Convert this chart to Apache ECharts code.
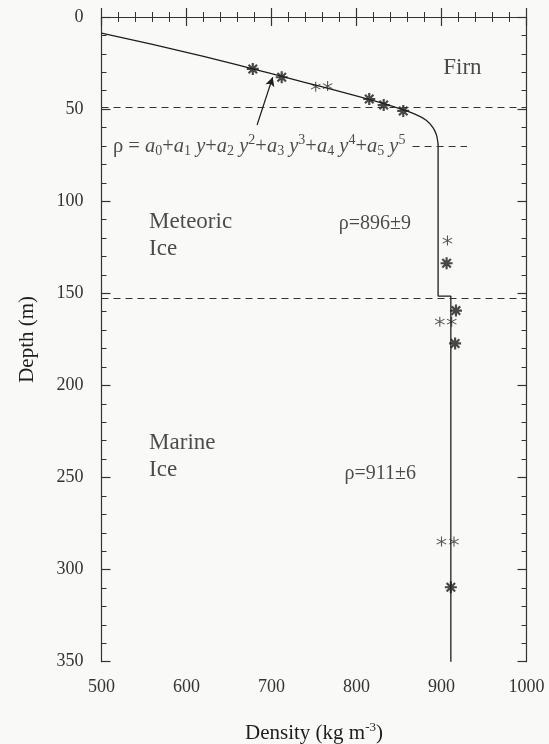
<!DOCTYPE html>
<html>
<head>
<meta charset="utf-8">
<script src="https://cdn.jsdelivr.net/npm/echarts@6/dist/echarts.min.js"></script>
<style>
html,body{margin:0;padding:0;background:#f9f9f7;}
#c{width:549px;height:744px;}
</style>
</head>
<body>
<div id="c"></div>
<script>
// ---- data (density kg m^-3, depth m) ----
const curveDensity = [500, 540, 580, 620, 660, 700, 740, 780, 820, 850, 870, 882, 890, 894, 896];
const curveDepth   = [8.8, 12.8, 17.0, 21.4, 26.0, 30.8, 35.6, 40.4, 45.4, 49.6, 53.0, 56.0, 60.0, 64.0, 69.0];
const stepDensity  = [896, 896, 911, 911];
const stepDepth    = [69, 151.5, 151.5, 350];
const boldDensity  = [678, 712, 815, 832, 855, 906, 917, 916, 911];
const boldDepth    = [28.2, 32.7, 44.5, 47.8, 51.0, 133.7, 159.4, 177.2, 309.6];
const thinDensity  = [752, 766, 907, 898, 912, 900, 914.7];
const thinDepth    = [37.8, 37.5, 121.4, 165.4, 165.4, 284.8, 284.8];
const boundaryDepths = [49, 152.5];
const shortDashDensity = [866, 930];
const shortDashDepth = 70.4;
const arrowFrom = [683, 58.6];
const arrowTo = [701.4, 32.7];
const xTicks = [500, 600, 700, 800, 900, 1000];
const yTicks = [0, 50, 100, 150, 200, 250, 300, 350];

const FONT = 'Liberation Serif';
const INK = '#1e1e1e';

function zip(a, b) { return a.map((v, i) => [v, b[i]]); }

function asterisk(nBars, w, offset) {
  let p = '';
  const L = 50, c = 50;
  for (let k = 0; k < nBars; k++) {
    const t = offset + k * Math.PI / nBars;
    const ct = Math.cos(t), st = Math.sin(t);
    const pts = [
      [c + L * ct - w * st, c + L * st + w * ct],
      [c - L * ct - w * st, c - L * st + w * ct],
      [c - L * ct + w * st, c - L * st - w * ct],
      [c + L * ct + w * st, c + L * st - w * ct]
    ];
    p += 'M' + pts.map(q => q[0].toFixed(2) + ' ' + q[1].toFixed(2)).join(' L') + ' Z ';
  }
  return 'path://' + p;
}
const boldStar = asterisk(4, 9, 0);
const thinStar = asterisk(3, 5, Math.PI / 2);

const eqRich = {
  r: {fontFamily: FONT, fontSize: 20.5, color: INK},
  i: {fontFamily: FONT, fontSize: 20.5, fontStyle: 'italic', color: INK},
  sb: {fontFamily: FONT, fontSize: 14, color: INK, padding: [10, 0, 0, 0]},
  sp: {fontFamily: FONT, fontSize: 14, color: INK, padding: [0, 0, 12, 0]}
};
let eq = '{r|ρ = }';
for (let k = 0; k <= 5; k++) {
  if (k > 0) eq += '{r|+}';
  eq += '{i|a}{sb|' + k + '}';
  if (k >= 1) eq += '{i| y}';
  if (k >= 2) eq += '{sp|' + k + '}';
}

const notes = [
  {value: [902, 27.7], label: {formatter: 'Firn', fontSize: 23}},
  {value: [556, 118.6], label: {formatter: 'Meteoric\nIce', fontSize: 23, lineHeight: 27}},
  {value: [779, 112.4], label: {formatter: 'ρ=896±9', fontSize: 20}},
  {value: [556, 238.5], label: {formatter: 'Marine\nIce', fontSize: 23, lineHeight: 27}},
  {value: [786, 248], label: {formatter: 'ρ=911±6', fontSize: 20}},
  {value: [513.5, shortDashDepth], label: {formatter: eq, rich: eqRich}}
];

const axisCommon = {
  axisLine: {lineStyle: {color: '#333', width: 1.2}},
  axisTick: {inside: true, length: 9, lineStyle: {color: '#333', width: 1.2}},
  minorTick: {show: true, splitNumber: 5, length: 5, lineStyle: {color: '#333', width: 1}},
  splitLine: {show: false}
};

const chart = echarts.init(document.getElementById('c'));
chart.setOption({
  backgroundColor: '#f9f9f7',
  animation: false,
  grid: {left: 101.5, right: 22.5, top: 17, bottom: 82.3, containLabel: false, outerBoundsMode: 'none'},
  xAxis: [
    Object.assign({
      type: 'value', position: 'bottom', min: 500, max: 1000, interval: 100,
      name: 'Density (kg m{sup|-3})', nameLocation: 'middle', nameGap: 59,
      nameTextStyle: {fontFamily: FONT, fontSize: 21, color: INK,
        rich: {sup: {fontFamily: FONT, fontSize: 13, color: INK, padding: [0, 0, 12, 0]}}},
      axisLabel: {fontFamily: FONT, fontSize: 18, color: '#333', margin: 17,
        formatter: v => xTicks.includes(v) ? String(v) : ''}
    }, axisCommon),
    Object.assign({
      type: 'value', position: 'top', min: 500, max: 1000, interval: 100,
      axisLabel: {show: false}
    }, axisCommon)
  ],
  yAxis: [
    Object.assign({
      type: 'value', position: 'left', inverse: true, min: 0, max: 350, interval: 50,
      name: 'Depth (m)', nameLocation: 'middle', nameGap: 64, nameRotate: 90,
      nameTextStyle: {fontFamily: FONT, fontSize: 21, color: INK},
      axisLabel: {fontFamily: FONT, fontSize: 18, color: '#333', margin: 18,
        formatter: v => yTicks.includes(v) ? String(v) : ''}
    }, axisCommon),
    Object.assign({
      type: 'value', position: 'right', inverse: true, min: 0, max: 350, interval: 50,
      axisLabel: {show: false}
    }, axisCommon)
  ],
  series: [
    {
      type: 'line', name: 'fit', data: zip(curveDensity, curveDepth), smooth: 0.3,
      showSymbol: false, lineStyle: {color: INK, width: 1.3},
      markLine: {
        silent: true, symbol: 'none', label: {show: false},
        lineStyle: {color: '#333', type: [7, 5], width: 1.2},
        data: boundaryDepths.map(d => ({yAxis: d})).concat([
          [{coord: [shortDashDensity[0], shortDashDepth]}, {coord: [shortDashDensity[1], shortDashDepth]}]
        ])
      }
    },
    {
      type: 'line', name: 'step', data: zip(stepDensity, stepDepth),
      showSymbol: false, lineStyle: {color: INK, width: 1.3},
      markLine: {
        silent: true, symbol: ['none', 'arrow'], symbolSize: [7, 9], label: {show: false},
        lineStyle: {color: INK, type: 'solid', width: 1.2},
        data: [[{coord: arrowFrom}, {coord: arrowTo}]]
      }
    },
    {
      type: 'scatter', name: 'bold', data: zip(boldDensity, boldDepth),
      symbol: boldStar, symbolSize: 12, itemStyle: {color: '#1a1a1a'}
    },
    {
      type: 'scatter', name: 'thin', data: zip(thinDensity, thinDepth),
      symbol: thinStar, symbolSize: 10, itemStyle: {color: '#2a2a2a'}
    },
    {
      type: 'scatter', name: 'notes', data: notes, symbolSize: 0, silent: true,
      label: {show: true, position: 'right', distance: 0, align: 'left', verticalAlign: 'middle',
        fontFamily: FONT, color: INK}
    }
  ]
});
</script>
</body>
</html>
